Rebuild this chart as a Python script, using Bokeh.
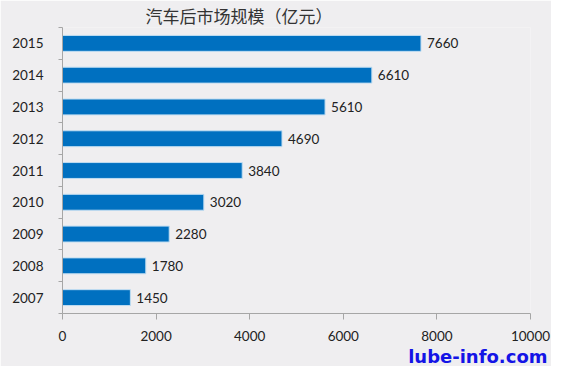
from bokeh.plotting import figure
from bokeh.models import FixedTicker, Title, ColumnDataSource
from bokeh.core.properties import value
from bokeh.embed import file_html
from bokeh.resources import INLINE

years = [2007, 2008, 2009, 2010, 2011, 2012, 2013, 2014, 2015]
sizes = [1450, 1780, 2280, 3020, 3840, 4690, 5610, 6610, 7660]
x_ticks = [0, 2000, 4000, 6000, 8000, 10000]
title_text = "汽车后市场规模（亿元）"
watermark = "lube-info.com"

BG = "#EFEEF0"
src = ColumnDataSource(dict(y=years, v=sizes, lbl=[str(s) for s in sizes]))

p = figure(width=551, height=366, output_backend="svg", toolbar_location=None,
           x_range=(0, 10000), y_range=(years[0] - 0.5, years[-1] + 0.5),
           min_border_left=62, min_border_right=21, min_border_top=10,
           min_border_bottom=20)
p.background_fill_color = BG
p.border_fill_color = BG
p.outline_line_color = None
p.grid.visible = False

p.title.text = title_text
p.title.align = "left"
p.title.offset = 83
p.title.standoff = 0
p.title.text_line_height = 0.6
p.title.text_font = "Noto Sans CJK SC"
p.title.text_font_size = "17px"
p.title.text_font_style = "normal"
p.title.text_color = "#333333"

p.hbar(y="y", right="v", left=0, height=0.5, source=src,
       fill_color="#0070C0", line_color="#BFDDF2", line_width=1)

p.text(x="v", y="y", text="lbl", source=src, x_offset=6,
       text_align="left", text_baseline="middle",
       text_font=value("Lato"), text_font_size="13.5px", text_color="#222222")

# x axis
xa = p.xaxis[0]
xa.ticker = FixedTicker(ticks=x_ticks)
xa.axis_line_color = "#A6A6A6"
xa.major_tick_line_color = "#A6A6A6"
xa.major_tick_out = 6
xa.major_tick_in = 0
xa.minor_tick_line_color = None
xa.major_label_standoff = 11
xa.major_label_text_font = "Lato"
xa.major_label_text_font_size = "13.5px"
xa.major_label_text_color = "#222222"

# y axis
ya = p.yaxis[0]
ya.ticker = FixedTicker(ticks=years, minor_ticks=[y - 0.5 for y in years] + [years[-1] + 0.5])
ya.major_label_overrides = {y: str(y) for y in years}
ya.axis_line_color = "#A6A6A6"
ya.major_tick_line_color = None
ya.major_tick_out = 0
ya.major_tick_in = 0
ya.minor_tick_line_color = "#A6A6A6"
ya.minor_tick_out = 4
ya.minor_tick_in = 0
ya.major_label_standoff = 15
ya.major_label_text_font = "Lato"
ya.major_label_text_font_size = "13.5px"
ya.major_label_text_color = "#222222"

wm = Title(text=watermark, align="right", offset=-17, standoff=0,
           text_font="DejaVu Sans", text_font_style="bold",
           text_font_size="18px", text_color="#1414E6")
p.add_layout(wm, "below")

open("out.html", "w").write(file_html(p, INLINE))
